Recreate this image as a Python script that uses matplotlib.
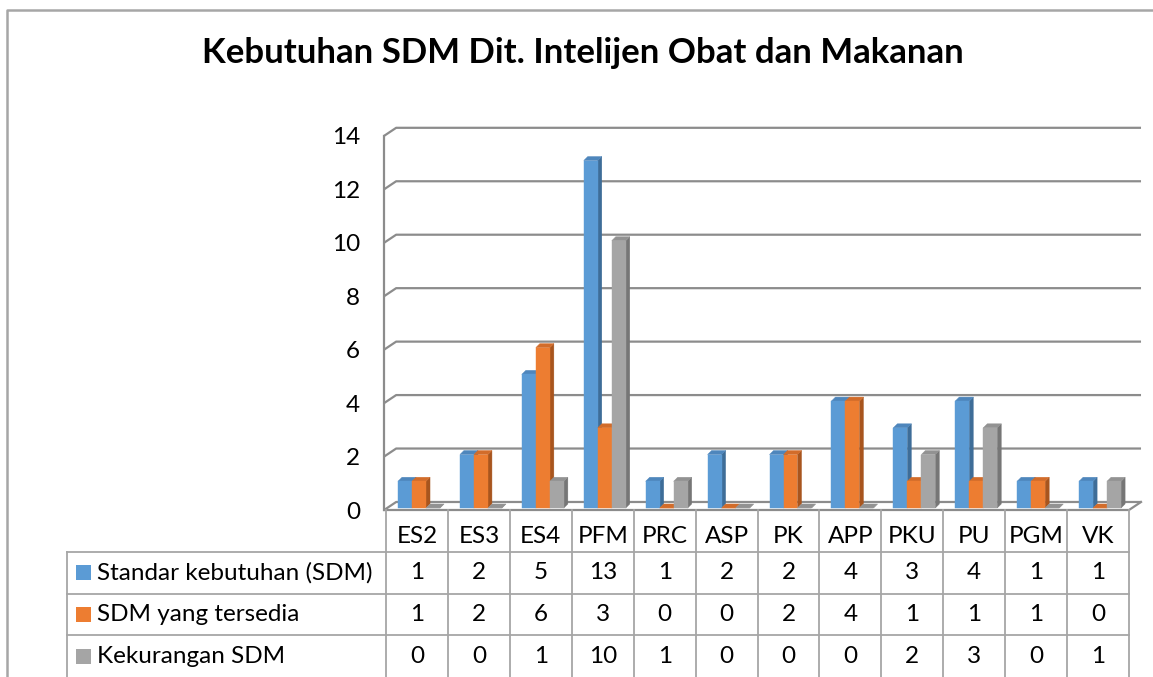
import matplotlib
matplotlib.use("Agg")
import matplotlib.pyplot as plt
from matplotlib.patches import Polygon, Rectangle
from matplotlib.lines import Line2D

# data
categories = ["ES2", "ES3", "ES4", "PFM", "PRC", "ASP", "PK", "APP", "PKU", "PU", "PGM", "VK"]
series_names = ["Standar kebutuhan (SDM)", "SDM yang tersedia", "Kekurangan SDM"]
standar = [1, 2, 5, 13, 1, 2, 2, 4, 3, 4, 1, 1]
tersedia = [1, 2, 6, 3, 0, 0, 2, 4, 1, 1, 1, 0]
kekurangan = [0, 0, 1, 10, 1, 0, 0, 0, 2, 3, 0, 1]
y_ticks = [0, 2, 4, 6, 8, 10, 12, 14]
title = "Kebutuhan SDM Dit. Intelijen Obat dan Makanan"

series = [standar, tersedia, kekurangan]
front_colors = ["#5B9BD5", "#ED7D31", "#A5A5A5"]
top_colors = ["#4E86BC", "#D26C2A", "#929292"]
side_colors = ["#3E6D98", "#A8551E", "#767676"]

plt.rcParams["font.family"] = ["Lato", "DejaVu Sans"]
fs = 17.5

W, H = 1153, 677
fig = plt.figure(figsize=(W / 100, H / 100), dpi=100)

# chart area border (left + top only visible)
fig.add_artist(Line2D([7 / W, 7 / W, 1], [0, 1 - 10 / H, 1 - 10 / H],
                      transform=fig.transFigure, color="#A6A6A6", lw=1.8))

fig.text(583 / W, 1 - 53 / H, title, ha="center", va="center",
         fontsize=25, fontweight="bold", color="black")

# main plot area: x in category units, y in values
ax = fig.add_axes([386 / W, 1 - 510 / H, 743 / W, 385 / H])
ax.set_xlim(0, len(categories))
ax.set_ylim(-0.075, 14.33)
ax.axis("off")

n = len(categories)
wall_x, floor_y = -0.03, -0.075
dxw, dyw = 0.194, 0.30   # depth of the back wall
dxb, dyb = 0.065, 0.15   # depth of each bar
bw = 0.226               # bar width
grid_col = "#8C8C8C"

for v in y_ticks:
    ax.plot([wall_x, wall_x + dxw, n + dxw], [v + floor_y, v + floor_y + dyw, v + floor_y + dyw],
            color=grid_col, lw=1.6, clip_on=False, zorder=1, solid_capstyle="butt")
    ax.text(-0.42, v - 0.15, str(v), ha="right", va="center", fontsize=fs)
ax.plot([wall_x, wall_x], [floor_y, y_ticks[-1] + floor_y], color=grid_col, lw=1.6, clip_on=False, zorder=1)
ax.plot([wall_x, n, n + dxw], [floor_y, floor_y, floor_y + dyw], color=grid_col, lw=1.6,
        clip_on=False, zorder=1)

for s, vals in enumerate(series):
    lefts = [i + dxw + s * bw for i in range(n)]
    bars = ax.bar(lefts, vals, width=bw, align="edge", color=front_colors[s],
                  edgecolor=front_colors[s], lw=0.3)
    for i, (rect, h) in enumerate(zip(bars, vals)):
        z = 10 + i * 3 + s
        rect.set_zorder(z + 0.5)
        x0 = lefts[i]
        side = Polygon([(x0 + bw, 0), (x0 + bw + dxb, dyb), (x0 + bw + dxb, h + dyb), (x0 + bw, h)],
                       closed=True, fc=side_colors[s], ec=side_colors[s], lw=0.3, zorder=z)
        top = Polygon([(x0, h), (x0 + bw, h), (x0 + bw + dxb, h + dyb), (x0 + dxb, h + dyb)],
                      closed=True, fc=top_colors[s], ec=top_colors[s], lw=0.3, zorder=z + 0.2)
        ax.add_patch(side)
        ax.add_patch(top)

# data table below the chart
x0 = -(386 - 67) / 61.9
tax = fig.add_axes([67 / W, 0, (1129 - 67) / W, 167 / H])
tax.set_xlim(x0, n)
tax.set_ylim(4, 0)
tax.axis("off")
tcol = "#A6A6A6"
for i in range(n + 1):
    tax.plot([i, i], [0, 4], color=tcol, lw=1.3, clip_on=False)
tax.plot([x0, x0], [1, 4], color=tcol, lw=1.3, clip_on=False)
for r in (1, 2, 3):
    tax.plot([x0, n], [r, r], color=tcol, lw=1.3, clip_on=False)

for i, cat in enumerate(categories):
    tax.text(i + 0.5, 0.63, cat, ha="center", va="center", fontsize=fs)
for s, vals in enumerate(series):
    yc = s + 1.5
    tax.add_patch(Rectangle((x0 + 0.145, yc - 0.18), 0.24, 0.36, color=front_colors[s], lw=0))
    tax.text(x0 + 0.485, yc, series_names[s], ha="left", va="center", fontsize=fs)
    for i, v in enumerate(vals):
        tax.text(i + 0.5, yc, str(v), ha="center", va="center", fontsize=fs)

fig.savefig("out.png", dpi=100)
